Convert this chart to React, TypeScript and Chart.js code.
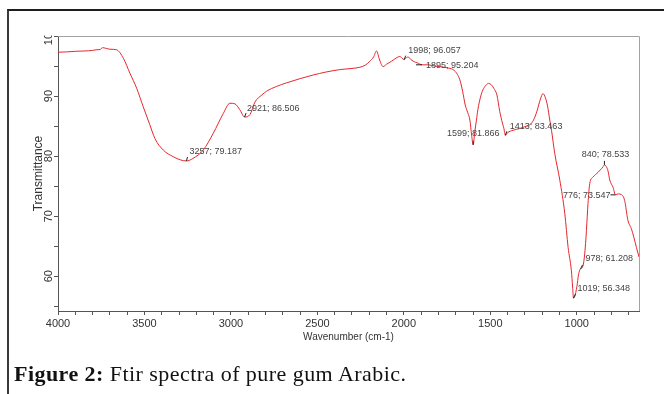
import React, { useEffect, useRef } from "react";
import { Chart, registerables } from "chart.js";

Chart.register(...registerables);

// FTIR spectrum of gum arabic: wavenumber (cm-1) against transmittance (%)
const wavenumbers = [
  4000, 3950, 3900, 3850, 3800, 3780, 3757, 3742, 3700, 3661, 3622, 3584, 3545, 3507, 3470,
  3439, 3391, 3334, 3290, 3257, 3220, 3160, 3102, 3044, 3006, 2977, 2948, 2921, 2890, 2861,
  2820, 2794, 2736, 2678, 2600, 2524, 2450, 2370, 2300, 2254, 2220, 2197, 2175, 2158, 2140,
  2120, 2100, 2071, 2040, 2023, 2010, 1998, 1985, 1975, 1960, 1946, 1920, 1895, 1860, 1820,
  1792, 1750, 1715, 1690, 1676, 1660, 1645, 1630, 1618, 1608, 1599, 1590, 1580, 1572, 1555,
  1543, 1525, 1510, 1495, 1480, 1462, 1445, 1430, 1422, 1413, 1400, 1368, 1329, 1300, 1272,
  1250, 1230, 1210, 1195, 1185, 1170, 1156, 1146, 1127, 1098, 1069, 1050, 1031, 1024, 1019,
  1012, 999, 990, 983, 978, 964, 954, 944, 935, 925, 906, 877, 857, 848, 840,
  830, 819, 809, 790, 776, 760, 742, 723, 704, 684, 670, 655, 640,
];
const transmittance = [
  97.3, 97.35, 97.45, 97.5, 97.6, 97.7, 97.75, 98.05, 97.8, 97.7, 96.3, 93.8, 91.3, 88.2, 85.3,
  82.9, 81.0, 79.9, 79.35, 79.187, 79.6, 81.0, 83.8, 87.1, 88.8, 88.7, 87.7, 86.506, 86.9, 89.0,
  90.2, 90.8, 91.6, 92.2, 92.9, 93.5, 94.0, 94.4, 94.6, 94.8, 95.2, 95.8, 96.5, 97.5, 96.0,
  94.9, 95.3, 95.8, 96.4, 96.6, 96.3, 96.057, 96.4, 96.5, 96.1, 95.8, 95.5, 95.204, 95.2, 95.0,
  94.9, 94.7, 94.4, 93.6, 92.7, 90.8, 88.5, 87.2, 86.0, 83.5, 81.866, 84.0, 86.0, 87.7, 90.0,
  91.0, 91.8, 92.1, 91.9, 91.3, 90.2, 87.4, 85.5, 84.7, 83.463, 83.9, 84.3, 84.6, 84.9, 85.2,
  86.0, 87.5, 89.5, 90.4, 90.0, 88.5, 86.0, 84.3, 80.4, 76.0, 70.4, 64.8, 60.9, 58.2, 56.348,
  56.6, 58.3, 60.2, 61.0, 61.208, 61.7, 63.7, 67.6, 72.1, 75.4, 76.5, 77.3, 77.9, 78.2, 78.533,
  78.3, 77.5, 76.0, 74.8, 73.547, 73.7, 73.6, 72.6, 69.3, 67.9, 66.5, 64.8, 63.2,
];

// Picked peaks
const peakWavenumbers = [3257, 2921, 1998, 1895, 1599, 1413, 840, 776, 978, 1019];
const peakTransmittance = [79.187, 86.506, 96.057, 95.204, 81.866, 83.463, 78.533, 73.547, 61.208, 56.348];

// Axis tick labels
const xTickLabels = [4000, 3500, 3000, 2500, 2000, 1500, 1000];
const yTickLabels = [100, 90, 80, 70, 60];

const SANS = '"Liberation Sans", Arial, sans-serif';

// where each peak label sits relative to its point
const labelPlacement = [
  { dx: 3, dy: -9, align: "left", lead: [1, -4] },
  { dx: 2.5, dy: -9, align: "left", lead: [1.5, -4] },
  { dx: 4, dy: -9, align: "left", lead: [1.5, -4] },
  { dx: 4, dy: 0.5, align: "left", lead: [-6, 0] },
  { dx: 0, dy: -11, align: "center", lead: [0, -4] },
  { dx: 4.5, dy: -9, align: "left", lead: [1.5, -4] },
  { dx: 1, dy: -10.5, align: "center", lead: [0, -4] },
  { dx: -5, dy: 0.5, align: "right", lead: [-5, 0] },
  { dx: 5, dy: -10, align: "left", lead: [2, -4] },
  { dx: 4, dy: -10, align: "left", lead: [2, -4] },
] as const;

const overlay = {
  id: "overlay",
  afterDraw(chart: any) {
    const { ctx, chartArea: a } = chart;
    const x = chart.scales.x;
    const y = chart.scales.y;
    ctx.save();

    // plot frame (top and right)
    ctx.strokeStyle = "#a3a3a3";
    ctx.lineWidth = 1;
    ctx.beginPath();
    ctx.moveTo(a.left, a.top + 0.5);
    ctx.lineTo(a.right + 0.5, a.top + 0.5);
    ctx.lineTo(a.right + 0.5, a.bottom);
    ctx.stroke();

    // rotated y tick labels (clipped at the top like the instrument export)
    ctx.save();
    ctx.beginPath();
    ctx.rect(0, 35.5, chart.width, chart.height);
    ctx.clip();
    ctx.font = `11px ${SANS}`;
    ctx.fillStyle = "#333";
    ctx.textAlign = "center";
    ctx.textBaseline = "middle";
    for (const v of yTickLabels) {
      const py = y.getPixelForValue(v);
      ctx.save();
      ctx.translate(49, py);
      ctx.rotate(-Math.PI / 2);
      ctx.fillText(String(v), 0, 0);
      ctx.restore();
    }
    ctx.restore();

    // axis titles
    ctx.fillStyle = "#333";
    ctx.textAlign = "center";
    ctx.textBaseline = "middle";
    ctx.font = `12px ${SANS}`;
    ctx.save();
    ctx.translate(39, (a.top + a.bottom) / 2);
    ctx.rotate(-Math.PI / 2);
    ctx.fillText("Transmittance", 0, 0);
    ctx.restore();
    ctx.font = `10px ${SANS}`;
    ctx.fillText("Wavenumber (cm-1)", (a.left + a.right) / 2, 337);

    // peak labels
    ctx.font = `9px ${SANS}`;
    ctx.textBaseline = "middle";
    peakWavenumbers.forEach((wn, i) => {
      const p = labelPlacement[i];
      const px = x.getPixelForValue(wn);
      const py = y.getPixelForValue(peakTransmittance[i]);
      ctx.strokeStyle = "#222";
      ctx.lineWidth = 1;
      ctx.beginPath();
      ctx.moveTo(px, py);
      ctx.lineTo(px + p.lead[0], py + p.lead[1]);
      ctx.stroke();
      ctx.fillStyle = "#444";
      ctx.textAlign = p.align as CanvasTextAlign;
      ctx.fillText(`${wn}; ${peakTransmittance[i].toFixed(3)}`, px + p.dx, py + p.dy);
    });

    ctx.restore();
  },
};

export default function App() {
  const ref = useRef<HTMLCanvasElement>(null);

  useEffect(() => {
    const chart = new Chart(ref.current as HTMLCanvasElement, {
      type: "line",
      data: {
        datasets: [
          {
            data: wavenumbers.map((w, i) => ({ x: w, y: transmittance[i] })),
            borderColor: "#e5272d",
            borderWidth: 1,
            pointRadius: 0,
            cubicInterpolationMode: "monotone",
            fill: false,
          },
        ],
      },
      options: {
        animation: false,
        responsive: false,
        maintainAspectRatio: false,
        devicePixelRatio: 1,
        events: [],
        layout: { padding: { left: 0, top: 36, right: 25, bottom: 0 } },
        plugins: { legend: { display: false }, tooltip: { enabled: false } },
        scales: {
          x: {
            type: "linear",
            reverse: true,
            min: 640,
            max: 4000,
            afterFit: (s: any) => {
              s.height = 83;
            },
            ticks: {
              stepSize: 100,
              autoSkip: false,
              includeBounds: false,
              maxRotation: 0,
              padding: 2,
              color: "#333",
              font: { size: 11, family: SANS },
              callback: (v: any) => (xTickLabels.includes(Number(v)) ? String(v) : ""),
            },
            grid: { drawOnChartArea: false, drawTicks: true, tickLength: 4, color: "#555" },
            border: { color: "#555", width: 1 },
          },
          y: {
            type: "linear",
            min: 54.2,
            max: 100,
            afterFit: (s: any) => {
              s.width = 58;
            },
            ticks: { stepSize: 5, includeBounds: false, display: false },
            grid: { drawOnChartArea: false, drawTicks: true, tickLength: 4, color: "#555" },
            border: { color: "#555", width: 1 },
          },
        },
      },
      plugins: [overlay],
    } as any);
    return () => chart.destroy();
  }, []);

  return (
    <div style={{ position: "fixed", left: 0, top: 0, width: 664, height: 394, overflow: "hidden", background: "#fff" }}>
      <div
        style={{
          position: "absolute",
          left: 7,
          top: 9,
          width: 700,
          height: 400,
          borderTop: "2px solid #1e1e1e",
          borderLeft: "2px solid #3a3a3a",
        }}
      />
      <canvas ref={ref} width={664} height={394} style={{ position: "absolute", left: 0, top: 0, width: 664, height: 394 }} />
      <div
        style={{
          position: "absolute",
          left: 14,
          top: 362,
          whiteSpace: "nowrap",
          fontFamily: '"Liberation Serif", "Times New Roman", serif',
          fontSize: 22,
          letterSpacing: 0.45,
          lineHeight: "24px",
          color: "#111",
        }}
      >
        <b>Figure 2:</b> Ftir spectra of pure gum Arabic.
      </div>
    </div>
  );
}
